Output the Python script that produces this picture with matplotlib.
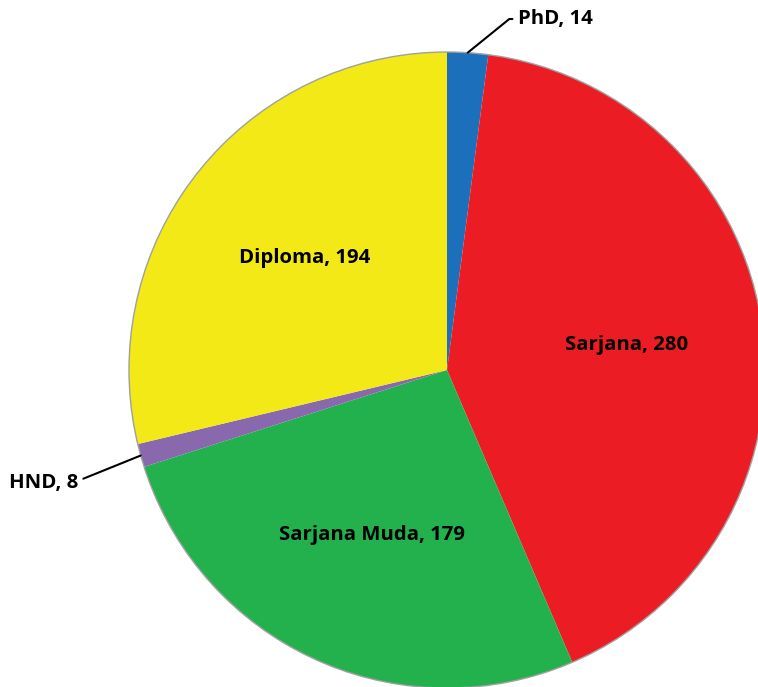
import numpy as np
import matplotlib.pyplot as plt

# data (clockwise from 12 o'clock)
labels = ['PhD', 'Sarjana', 'Sarjana Muda', 'HND', 'Diploma']
counts = [14, 280, 179, 8, 194]
colors = ['#1c6fbb', '#ec1c24', '#22b14c', '#8a68ae', '#f2e916']
inside = [False, True, True, False, True]

W, H = 758, 687
fig = plt.figure(figsize=(W / 100, H / 100), dpi=100)
ax = fig.add_axes([0, 0, 1, 1])

cx, cy, R = 447, H - 370, 318
wedges, _ = ax.pie(counts, colors=colors, startangle=90, counterclock=False,
                   center=(cx, cy), radius=R, frame=True,
                   wedgeprops=dict(edgecolor='none'))
ax.add_patch(plt.Circle((cx, cy), R, fill=False, ec='#a0a0a0', lw=1))

font = dict(family=['Open Sans', 'DejaVu Sans'], weight='bold', fontsize=14.7)
for w, lab, n, ins in zip(wedges, labels, counts, inside):
    mid = np.deg2rad((w.theta1 + w.theta2) / 2)
    if ins:
        ax.text(cx + 0.57 * R * np.cos(mid), cy + 0.57 * R * np.sin(mid),
                f'{lab}, {n}', ha='center', va='center', **font)

# small slices with leader lines
def leader(i, txt_xy, ha, angB):
    w = wedges[i]
    mid = np.deg2rad((w.theta1 + w.theta2) / 2)
    xy = (cx + R * np.cos(mid), cy + R * np.sin(mid))
    angA = 180 if ha == 'left' else 0
    ax.annotate(f'{labels[i]}, {counts[i]}', xy=xy, xytext=txt_xy,
                ha=ha, va='center',
                arrowprops=dict(arrowstyle='-', color='black', lw=1.5,
                                shrinkA=2, shrinkB=0,
                                connectionstyle=f'angle,angleA={angA},angleB={angB},rad=0'),
                **font)

leader(0, (518, H - 19), 'left', 39)
leader(3, (78, H - 483), 'right', 22)

ax.set_xlim(0, W)
ax.set_ylim(0, H)
ax.set_aspect('equal')
ax.axis('off')
fig.savefig('out.png', dpi=100)
